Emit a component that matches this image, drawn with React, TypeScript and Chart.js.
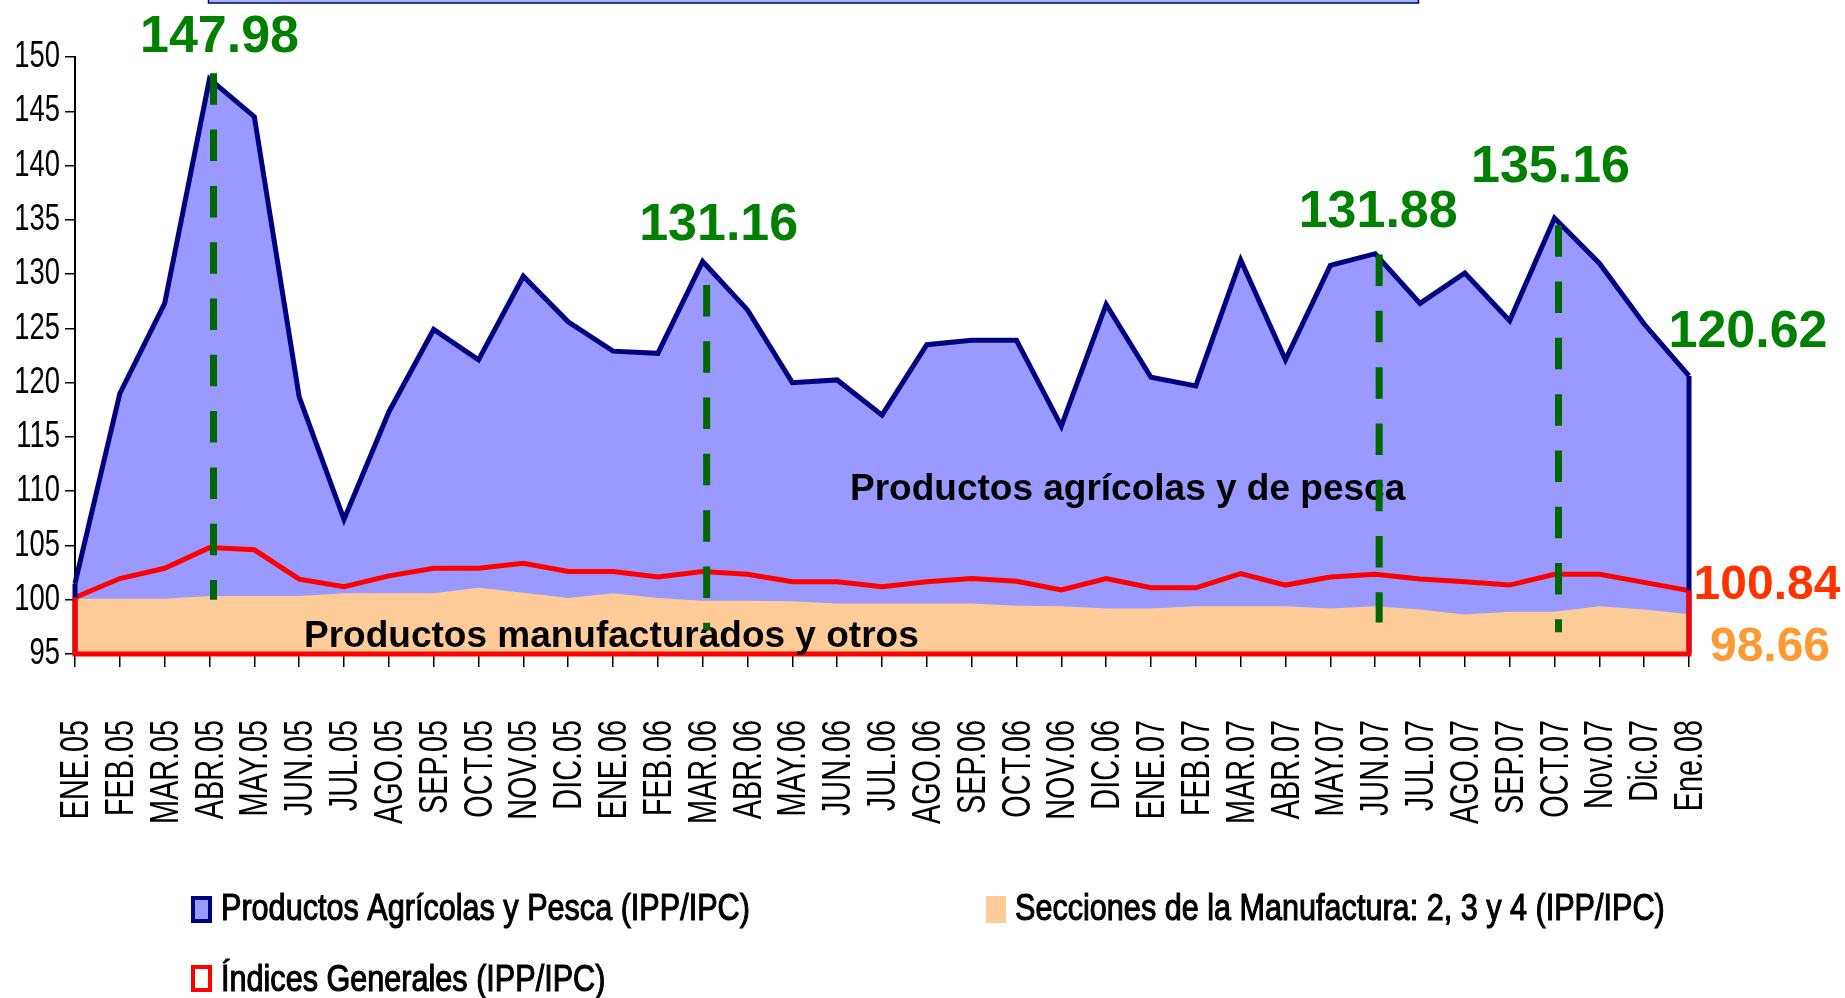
import React, { useEffect, useRef } from 'react';
import { Chart, registerables } from 'chart.js';

Chart.register(...registerables);

const categories = [
  'ENE.05', 'FEB.05', 'MAR.05', 'ABR.05', 'MAY.05', 'JUN.05', 'JUL.05', 'AGO.05', 'SEP.05', 'OCT.05', 'NOV.05', 'DIC.05',
  'ENE.06', 'FEB.06', 'MAR.06', 'ABR.06', 'MAY.06', 'JUN.06', 'JUL.06', 'AGO.06', 'SEP.06', 'OCT.06', 'NOV.06', 'DIC.06',
  'ENE.07', 'FEB.07', 'MAR.07', 'ABR.07', 'MAY.07', 'JUN.07', 'JUL.07', 'AGO.07', 'SEP.07', 'OCT.07', 'Nov.07', 'Dic.07',
  'Ene.08',
];

const agricola = [
  101.5, 119.0, 127.3, 147.98, 144.5, 118.7, 107.4, 117.3, 124.9, 122.1, 129.8, 125.6,
  122.9, 122.7, 131.16, 126.7, 120.0, 120.25, 117.0, 123.5, 123.9, 123.9, 116.0, 127.2,
  120.5, 119.7, 131.3, 122.1, 130.8, 131.88, 127.3, 130.1, 125.7, 135.16, 131.0, 125.4,
  120.62,
];

const manufactura = [
  100.1, 100.1, 100.1, 100.35, 100.35, 100.35, 100.6, 100.6, 100.6, 101.1, 100.65, 100.15,
  100.6, 100.15, 99.9, 99.9, 99.85, 99.65, 99.65, 99.65, 99.65, 99.45, 99.4, 99.2,
  99.2, 99.4, 99.4, 99.4, 99.2, 99.4, 99.1, 98.65, 98.9, 98.9, 99.4, 99.1,
  98.66,
];

const generales = [
  100.2, 101.95, 102.9, 104.8, 104.6, 101.9, 101.2, 102.2, 102.9, 102.9, 103.35, 102.6,
  102.6, 102.1, 102.6, 102.35, 101.65, 101.65, 101.2, 101.65, 101.95, 101.7, 100.9, 101.95,
  101.1, 101.1, 102.4, 101.35, 102.1, 102.35, 101.9, 101.65, 101.35, 102.35, 102.35, 101.6,
  100.84,
];

const Y_MIN = 95;
const Y_MAX = 150;
const Y_STEP = 5;

// drop lines (category index, top value, bottom value)
const dropIndex = [3, 14, 29, 33];
const dropTop = [148.5, 129.0, 131.8, 134.5];
const dropBottom = [100.0, 97.2, 97.9, 97.0];

// highlighted values of the agricultural series
const peakIndex = [3, 14, 29, 33, 36];
const peakDx = [10, 16, 3, -4, 59];
const peakDy = [-27, -21, -27, -36, -29];

const seriesNames = [
  'Productos Agrícolas y Pesca (IPP/IPC)',
  'Secciones de la Manufactura: 2, 3 y 4 (IPP/IPC)',
  'Índices Generales (IPP/IPC)',
];

const NAVY = '#000080';
const BLUE_FILL = '#9999FF';
const PEACH = '#FFCC99';
const RED = '#FF0000';
const GREEN_TEXT = '#008000';
const GREEN_DASH = '#006600';
const SANS = '"Liberation Sans", Arial, sans-serif';

// condensed axis labels, placed at the positions of the chart's own ticks
const axisLabelPlugin = {
  id: 'axisLabels',
  afterDraw(chart: any) {
    const { ctx, scales } = chart;
    const x = scales.x;
    const y = scales.y;
    ctx.save();
    ctx.fillStyle = '#000';
    // y axis
    ctx.font = `37px ${SANS}`;
    ctx.textAlign = 'right';
    ctx.textBaseline = 'middle';
    y.ticks.forEach((t: any, i: number) => {
      const py = y.getPixelForTick(i);
      ctx.save();
      ctx.translate(y.right - 15, py);
      ctx.scale(0.74, 1);
      ctx.fillText(String(t.value), 0, 0);
      ctx.restore();
    });
    // x axis
    ctx.font = `40px ${SANS}`;
    ctx.textAlign = 'right';
    ctx.textBaseline = 'middle';
    x.ticks.forEach((t: any, i: number) => {
      const px = x.getPixelForTick(i);
      ctx.save();
      ctx.translate(px + 2, x.top + 66);
      ctx.rotate(-Math.PI / 2);
      ctx.scale(0.72, 1);
      ctx.fillText(categories[i], 0, 0);
      ctx.restore();
    });
    ctx.restore();
  },
};

const overlayPlugin = {
  id: 'overlay',
  afterDatasetsDraw(chart: any) {
    const { ctx, scales } = chart;
    const x = scales.x;
    const y = scales.y;
    const last = categories.length - 1;
    const x0 = x.getPixelForValue(0);
    const xN = x.getPixelForValue(last);
    const yBase = y.getPixelForValue(Y_MIN);
    ctx.save();
    // navy area outline on the ends
    ctx.strokeStyle = NAVY;
    ctx.lineWidth = 5;
    ctx.beginPath();
    ctx.moveTo(x0, y.getPixelForValue(agricola[0]));
    ctx.lineTo(x0, yBase);
    ctx.moveTo(xN, y.getPixelForValue(agricola[last]));
    ctx.lineTo(xN, yBase);
    ctx.stroke();
    // red area outline
    ctx.strokeStyle = RED;
    ctx.lineWidth = 5;
    ctx.lineJoin = 'miter';
    ctx.beginPath();
    ctx.moveTo(x0, y.getPixelForValue(generales[0]));
    ctx.lineTo(x0, yBase);
    ctx.lineTo(xN, yBase);
    ctx.lineTo(xN, y.getPixelForValue(generales[last]));
    ctx.stroke();

    // inside labels
    ctx.fillStyle = '#000';
    ctx.textAlign = 'left';
    ctx.textBaseline = 'alphabetic';
    ctx.font = `bold 37px ${SANS}`;
    ctx.fillText('Productos agrícolas y de pesca', 850, 500);
    ctx.fillText('Productos manufacturados y otros', 304, 647);

    // dashed drop lines
    ctx.strokeStyle = GREEN_DASH;
    ctx.lineWidth = 7;
    ctx.lineCap = 'butt';
    ctx.setLineDash([31.5, 24.8]);
    dropIndex.forEach((idx, k) => {
      const px = x.getPixelForValue(idx) + 4;
      ctx.beginPath();
      ctx.moveTo(px, y.getPixelForValue(dropTop[k]));
      ctx.lineTo(px, y.getPixelForValue(dropBottom[k]));
      ctx.stroke();
    });
    ctx.setLineDash([]);

    // value labels
    ctx.textAlign = 'center';
    ctx.font = `bold 52px ${SANS}`;
    ctx.fillStyle = GREEN_TEXT;
    peakIndex.forEach((idx, k) => {
      const v = agricola[idx];
      ctx.fillText(v.toFixed(2), x.getPixelForValue(idx) + peakDx[k], y.getPixelForValue(v) + peakDy[k]);
    });
    ctx.font = `bold 48px ${SANS}`;
    ctx.fillStyle = '#FF3300';
    ctx.fillText(generales[last].toFixed(2), xN + 78, y.getPixelForValue(generales[last]) + 8);
    ctx.fillStyle = '#FF9933';
    ctx.fillText(manufactura[last].toFixed(2), xN + 81, y.getPixelForValue(manufactura[last]) + 47);
    ctx.restore();
  },
  afterDraw(chart: any) {
    const { ctx } = chart;
    ctx.save();
    // partially visible title box at the top
    ctx.fillStyle = '#A6B6E6';
    ctx.fillRect(208, 0, 1211, 3);
    ctx.strokeStyle = NAVY;
    ctx.lineWidth = 1.5;
    ctx.strokeRect(208.5, -6, 1210, 9);

    // legend
    const drawText = (t: string, lx: number, by: number) => {
      ctx.save();
      ctx.translate(lx, by);
      ctx.scale(0.85, 1);
      ctx.fillStyle = '#000';
      ctx.strokeStyle = '#000';
      ctx.lineWidth = 1.1;
      ctx.font = `36px ${SANS}`;
      ctx.textAlign = 'left';
      ctx.textBaseline = 'alphabetic';
      ctx.fillText(t, 0, 0);
      ctx.strokeText(t, 0, 0);
      ctx.restore();
    };
    // marker 1
    ctx.fillStyle = NAVY;
    ctx.fillRect(191, 896, 21, 27);
    ctx.fillStyle = BLUE_FILL;
    ctx.fillRect(195, 900, 13, 19);
    drawText(seriesNames[0], 221, 920);
    // marker 2
    ctx.fillStyle = PEACH;
    ctx.fillRect(986, 896, 20, 27);
    drawText(seriesNames[1], 1015, 920);
    // marker 3
    ctx.fillStyle = RED;
    ctx.fillRect(191, 965, 21, 27);
    ctx.fillStyle = '#FFFFFF';
    ctx.fillRect(195, 969, 13, 19);
    drawText(seriesNames[2], 221, 991);
    ctx.restore();
  },
};

export default function App() {
  const ref = useRef<HTMLCanvasElement | null>(null);
  useEffect(() => {
    if (!ref.current) return;
    const chart = new Chart(ref.current, {
      type: 'line',
      data: {
        labels: categories,
        datasets: [
          {
            label: seriesNames[0],
            data: agricola,
            borderColor: NAVY,
            backgroundColor: BLUE_FILL,
            borderWidth: 5,
            fill: 'start',
            pointRadius: 0,
            tension: 0,
            order: 3,
          },
          {
            label: seriesNames[1],
            data: manufactura,
            borderColor: PEACH,
            backgroundColor: PEACH,
            borderWidth: 0,
            fill: 'start',
            pointRadius: 0,
            tension: 0,
            order: 2,
          },
          {
            label: seriesNames[2],
            data: generales,
            borderColor: RED,
            backgroundColor: 'rgba(0,0,0,0)',
            borderWidth: 5,
            fill: false,
            pointRadius: 0,
            tension: 0,
            order: 1,
          },
        ],
      },
      options: {
        responsive: false,
        animation: false,
        devicePixelRatio: 1,
        layout: { padding: { top: 57, right: 156, bottom: 0, left: 0 } },
        plugins: {
          legend: { display: false },
          tooltip: { enabled: false },
          title: { display: false },
        },
        scales: {
          x: {
            type: 'category',
            offset: false,
            grid: {
              display: true,
              drawOnChartArea: false,
              drawTicks: true,
              tickLength: 13,
              color: '#000',
              lineWidth: 1.5,
            },
            border: { display: true, color: '#000', width: 2 },
            ticks: {
              display: false,
              autoSkip: false,
            },
            afterFit: (scale: any) => {
              scale.height = 344;
            },
          },
          y: {
            min: Y_MIN,
            max: Y_MAX,
            grid: {
              display: true,
              drawOnChartArea: false,
              drawTicks: true,
              tickLength: 10,
              color: '#000',
              lineWidth: 1.5,
            },
            border: { display: true, color: '#000', width: 2 },
            ticks: {
              display: false,
              stepSize: Y_STEP,
            },
            afterFit: (scale: any) => {
              scale.width = 75;
            },
          },
        },
      },
      plugins: [overlayPlugin, axisLabelPlugin],
    });
    return () => chart.destroy();
  }, []);

  return (
    <div style={{ position: 'absolute', left: 0, top: 0, width: 1845, height: 998, background: '#fff' }}>
      <canvas ref={ref} width={1845} height={998} style={{ display: 'block' }} />
    </div>
  );
}
